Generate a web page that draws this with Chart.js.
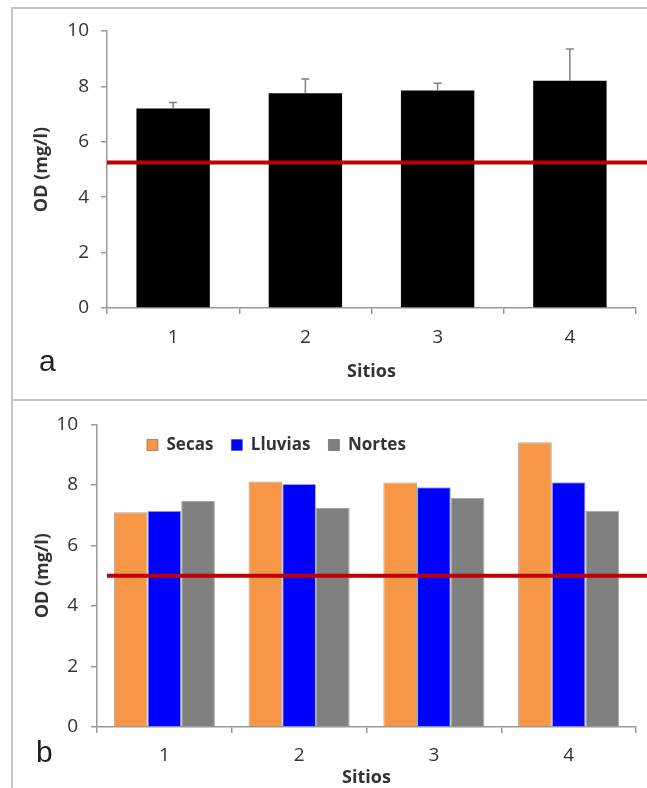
<!DOCTYPE html>
<html>
<head>
<meta charset="utf-8">
<script src="https://cdn.jsdelivr.net/npm/chart.js@4/dist/chart.umd.min.js"></script>
<style>
  html, body { margin: 0; padding: 0; background: #fff; overflow: hidden; width: 647px; height: 788px; }
  .marco { position: absolute; border: 2px solid #c4c4c4; }
  .lienzo { position: absolute; left: 0; }
  .letra { position: absolute; font-family: "Liberation Sans", Arial, sans-serif; font-size: 30px; line-height: 1; color: #222; }
</style>
</head>
<body>
<div class="marco" style="left:11px; top:7px; width:660px; height:390px;"></div>
<div class="marco" style="left:11px; top:399px; width:660px; height:420px;"></div>
<canvas class="lienzo grafica-a" width="647" height="400" style="top:0px"></canvas>
<canvas class="lienzo grafica-b" width="647" height="400" style="top:400px"></canvas>
<div class="letra" style="left:39px; top:346px;">a</div>
<div class="letra" style="left:36px; top:737px;">b</div>
<script>
const sitios = ["1", "2", "3", "4"];
const yTicks = [0, 2, 4, 6, 8, 10];

// grafica a: promedio y desviacion (solo hacia arriba)
const odPromedio = [7.2, 7.75, 7.85, 8.2];
const odError = [0.22, 0.52, 0.26, 1.15];
const limiteA = 5.25;

// grafica b: por temporada
const secas = [7.1, 8.11, 8.08, 9.41];
const lluvias = [7.15, 8.03, 7.92, 8.09];
const nortes = [7.47, 7.24, 7.57, 7.15];
const limiteB = 5.0;

const fuente = "'Open Sans', sans-serif";
Chart.defaults.font.family = fuente;
Chart.defaults.devicePixelRatio = 1;

const gris = "#999";

// linea roja de referencia
const lineaLimite = {
    id: "lineaLimite",
    afterDatasetsDraw(chart, args, opts) {
        const y = chart.scales.y.getPixelForValue(opts.valor);
        const ctx = chart.ctx;
        ctx.save();
        ctx.strokeStyle = "#c00000";
        ctx.lineWidth = 4;
        ctx.beginPath();
        ctx.moveTo(chart.chartArea.left + (opts.inicio || 0), y);
        ctx.lineTo(chart.width, y);
        ctx.stroke();
        ctx.restore();
    }
};

// barras de error
const barrasError = {
    id: "barrasError",
    afterDatasetsDraw(chart, args, opts) {
        if (!opts.errores) return;
        const meta = chart.getDatasetMeta(0);
        const ctx = chart.ctx;
        const yScale = chart.scales.y;
        ctx.save();
        ctx.strokeStyle = "#808080";
        ctx.lineWidth = 1.5;
        meta.data.forEach(function (barra, i) {
            const v = chart.data.datasets[0].data[i];
            const yTop = yScale.getPixelForValue(v + opts.errores[i]);
            ctx.beginPath();
            ctx.moveTo(barra.x, barra.y);
            ctx.lineTo(barra.x, yTop);
            ctx.moveTo(barra.x - 4, yTop);
            ctx.lineTo(barra.x + 4, yTop);
            ctx.stroke();
        });
        ctx.restore();
    }
};

// la leyenda va dentro del area de la grafica, arriba a la izquierda
const moverLeyenda = {
    id: "moverLeyenda",
    afterLayout(chart, args, opts) {
        if (!opts.x || !chart.legend) return;
        const leyenda = chart.legend;
        const pad = chart.options.plugins.legend.labels.padding;
        leyenda.left = opts.x - pad;
        leyenda.right = chart.width;
        leyenda.top = opts.y - pad;
        leyenda.bottom = opts.y + 40;
        leyenda.width = leyenda.right - leyenda.left;
        leyenda.height = leyenda.bottom - leyenda.top;
    }
};

function ejes(cfg) {
    return {
        x: {
            offset: true,
            grid: { display: true, drawOnChartArea: false, drawTicks: true, tickLength: 6, offset: true, color: gris, lineWidth: 1.5 },
            border: { display: true, color: gris, width: 1.5 },
            ticks: { font: { size: 19 }, color: "#333", padding: cfg.xPad },
            title: { display: true, text: "Sitios", font: { size: 18, weight: "bold" }, color: "#333", padding: { top: 0, bottom: cfg.tituloX } },
            afterFit: function (s) { s.height = cfg.altoX; }
        },
        y: {
            min: 0,
            max: 10,
            afterBuildTicks: function (s) { s.ticks = yTicks.map(v => ({ value: v })); },
            grid: { display: true, drawOnChartArea: false, drawTicks: true, tickLength: 6, color: gris, lineWidth: 1.5 },
            border: { display: true, color: gris, width: 1.5 },
            ticks: { font: { size: 19 }, color: "#333", padding: cfg.yPad },
            title: { display: true, text: "OD (mg/l)", font: { size: 18, weight: "bold" }, color: "#333", padding: { top: cfg.tituloY, bottom: 0 } },
            afterFit: function (s) { s.width = cfg.anchoY; }
        }
    };
}

const configA = {
    type: "bar",
    data: {
        labels: sitios,
        datasets: [{
            label: "OD",
            data: odPromedio,
            backgroundColor: "#000",
            borderWidth: 0,
            categoryPercentage: 0.555,
            barPercentage: 1
        }]
    },
    plugins: [barrasError, lineaLimite],
    options: {
        responsive: false,
        animation: false,
        layout: { padding: { left: 0, right: 11, top: 31, bottom: 0 } },
        scales: ejes({ xPad: 12, tituloX: 17, altoX: 92, yPad: 12, tituloY: 31, anchoY: 107 }),
        plugins: {
            legend: { display: false },
            tooltip: { enabled: false },
            barrasError: { errores: odError },
            lineaLimite: { valor: limiteA, inicio: 0 }
        }
    }
};

const configB = {
    type: "bar",
    data: {
        labels: sitios,
        datasets: [
            { label: "Secas", data: secas, backgroundColor: "#f79646" },
            { label: "Lluvias", data: lluvias, backgroundColor: "#0000ff" },
            { label: "Nortes", data: nortes, backgroundColor: "#808080" }
        ].map(d => Object.assign(d, {
            borderColor: "rgba(60,60,60,0.45)",
            borderWidth: 1,
            categoryPercentage: 0.75,
            barPercentage: 1
        }))
    },
    plugins: [lineaLimite, moverLeyenda],
    options: {
        responsive: false,
        animation: false,
        layout: { padding: { left: 0, right: 11, top: 22, bottom: 0 } },
        scales: ejes({ xPad: 11, tituloX: 11, altoX: 73, yPad: 13, tituloY: 32, anchoY: 97 }),
        plugins: {
            legend: {
                position: "top",
                align: "start",
                maxHeight: 1,
                labels: {
                    boxWidth: 11,
                    boxHeight: 11,
                    padding: 18,
                    color: "#333",
                    font: { size: 17, weight: "bold" }
                }
            },
            tooltip: { enabled: false },
            lineaLimite: { valor: limiteB, inicio: 10 },
            moverLeyenda: { x: 147, y: 36.5 }
        }
    }
};

new Chart(document.querySelector(".grafica-a"), configA);
new Chart(document.querySelector(".grafica-b"), configB);
</script>
</body>
</html>
